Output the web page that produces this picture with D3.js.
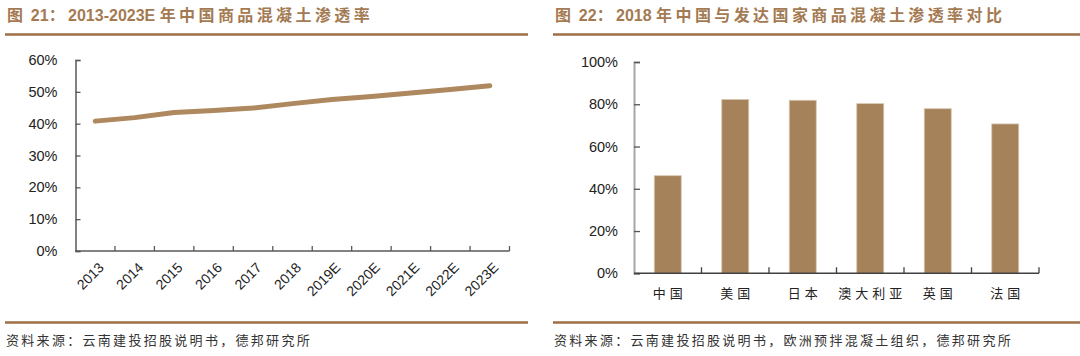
<!DOCTYPE html>
<html><head><meta charset="utf-8">
<script src="https://cdn.jsdelivr.net/npm/d3@7"></script>
<style>
html,body{margin:0;padding:0;background:#fff;}
svg{display:block;}
</style></head>
<body>
<svg id="c" width="1080" height="356"></svg>
<script>
// ---- data ----
const yearCats = ["2013","2014","2015","2016","2017","2018","2019E","2020E","2021E","2022E","2023E"];
const penetration = [40.8, 41.9, 43.5, 44.1, 44.9, 46.3, 47.6, 48.5, 49.6, 50.7, 51.9];
const leftYTicks = [0,10,20,30,40,50,60];

const countryCats = ["中国","美国","日本","澳大利亚","英国","法国"];
const country2018 = [46.2, 82.3, 81.9, 80.3, 77.9, 70.7];
const rightYTicks = [0,20,40,60,80,100];

const leftTitle = "图 21：2013-2023E 年中国商品混凝土渗透率";
const rightTitle = "图 22：2018 年中国与发达国家商品混凝土渗透率对比";
const leftSource = "资料来源：云南建投招股说明书，德邦研究所";
const rightSource = "资料来源：云南建投招股说明书，欧洲预拌混凝土组织，德邦研究所";

// ---- styles ----
const brown = "#A47A52";
const ruleColor = "#9E6E46";
const lineColor = "#AE885E";
const barColor = "#A6825A";
const cjk = "'Noto Sans CJK SC','Noto Sans',sans-serif";
const latin = "'Liberation Sans',Arial,sans-serif";

const svg = d3.select("#c");

function header(x0, x1, title){
  const t = svg.append("text").attr("x", x0+2).attr("y", 21)
    .attr("fill", brown).attr("font-family", latin + "," + cjk)
    .attr("font-weight", "bold").attr("font-size", 16);
  const parts = title.match(/[\u3000-\u9fff\uff00-\uffef]+|[^\u3000-\u9fff\uff00-\uffef]+/g);
  parts.forEach(p => {
    const isCjk = /[\u3000-\u9fff\uff00-\uffef]/.test(p);
    t.append("tspan").attr("letter-spacing", isCjk ? 3.4 : 0)
      .attr("font-family", isCjk ? cjk : latin).text(p);
  });
  svg.append("line").attr("x1", x0).attr("x2", x1).attr("y1", 34.5).attr("y2", 34.5)
    .attr("stroke", ruleColor).attr("stroke-width", 2.6);
}
function footer(x0, x1, src){
  svg.append("line").attr("x1", x0).attr("x2", x1).attr("y1", 322.5).attr("y2", 322.5)
    .attr("stroke", ruleColor).attr("stroke-width", 2.6);
  svg.append("text").attr("x", x0+1).attr("y", 345)
    .attr("fill", "#333").attr("font-family", cjk)
    .attr("font-size", 13).attr("letter-spacing", 2.3)
    .text(src);
}

header(5, 528, leftTitle);
footer(5, 528, leftSource);
header(553, 1080, rightTitle);
footer(553, 1080, rightSource);

// ---- left line chart ----
{
  const x = d3.scaleBand().domain(yearCats).range([75.5, 509.5]);
  const y = d3.scaleLinear().domain([0, 60]).range([251, 60]);
  const axisCol = "#595959";
  const g = svg.append("g");

  const ya = g.append("g").attr("transform", "translate(75.5,0)")
    .call(d3.axisLeft(y).tickValues(leftYTicks).tickSize(-5).tickPadding(18).tickFormat(d => d + "%"));
  ya.select(".domain").attr("stroke", axisCol).attr("stroke-width", 1.5);
  ya.selectAll(".tick line").attr("stroke", axisCol).attr("stroke-width", 1.3);
  ya.selectAll(".tick text").attr("font-family", latin).attr("font-size", 14.5).attr("fill", "#222");

  const xa = g.append("g").attr("transform", "translate(0,251)");
  xa.append("line").attr("x1", 75.5).attr("x2", 509.5).attr("stroke", axisCol).attr("stroke-width", 1.5);
  const bounds = yearCats.map(d => x(d)).concat([x(yearCats[yearCats.length-1]) + x.bandwidth()]);
  xa.selectAll("line.tk").data(bounds.slice(1)).join("line").attr("class", "tk")
    .attr("x1", d => d).attr("x2", d => d).attr("y1", 0).attr("y2", -5)
    .attr("stroke", axisCol).attr("stroke-width", 1.3);
  xa.selectAll("text").data(yearCats).join("text")
    .attr("transform", d => `translate(${x(d) + x.bandwidth()/2 + 6},${14}) rotate(-45)`)
    .attr("text-anchor", "end").attr("dy", "0.35em")
    .attr("font-family", latin).attr("font-size", 14).attr("fill", "#222")
    .text(d => d);

  const line = d3.line().x((d, i) => x(yearCats[i]) + x.bandwidth()/2).y(d => y(d));
  g.append("path").datum(penetration).attr("d", line)
    .attr("fill", "none").attr("stroke", lineColor).attr("stroke-width", 5)
    .attr("stroke-linecap", "round").attr("stroke-linejoin", "round");
}

// ---- right bar chart ----
{
  const x = d3.scaleBand().domain(countryCats).range([634, 1039]).paddingInner(0.6).paddingOuter(0.3);
  const y = d3.scaleLinear().domain([0, 100]).range([273.3, 62]);
  const g = svg.append("g");

  g.selectAll("rect").data(country2018).join("rect")
    .attr("x", (d, i) => x(countryCats[i])).attr("width", x.bandwidth())
    .attr("y", d => y(d)).attr("height", d => y(0) - y(d))
    .attr("fill", barColor).attr("stroke", "#d9c9b2").attr("stroke-width", 0.8);

  const ya = g.append("g").attr("transform", "translate(634,0)")
    .call(d3.axisLeft(y).tickValues(rightYTicks).tickSize(-6).tickPadding(16).tickFormat(d => d + "%"));
  ya.select(".domain").attr("stroke", "#A6A6A6").attr("stroke-width", 2);
  ya.selectAll(".tick line").attr("stroke", "#555").attr("stroke-width", 1.3);
  ya.selectAll(".tick text").attr("font-family", latin).attr("font-size", 14.5).attr("fill", "#222");

  const xa = g.append("g").attr("transform", "translate(0,273.3)");
  xa.append("line").attr("x1", 634).attr("x2", 1039).attr("stroke", "#404040").attr("stroke-width", 1.5);
  const step = x.step();
  const bounds = countryCats.map((d, i) => 634 + step * (i + 1));
  xa.selectAll("line.tk").data(bounds).join("line").attr("class", "tk")
    .attr("x1", d => d).attr("x2", d => d).attr("y1", 0).attr("y2", -6)
    .attr("stroke", "#404040").attr("stroke-width", 1.3);
  xa.selectAll("text").data(countryCats).join("text")
    .attr("x", d => x(d) + x.bandwidth()/2 + 2).attr("y", 25)
    .attr("text-anchor", "middle")
    .attr("font-family", cjk).attr("font-size", 13).attr("letter-spacing", 4).attr("fill", "#222")
    .text(d => d);
}
</script>
</body></html>
